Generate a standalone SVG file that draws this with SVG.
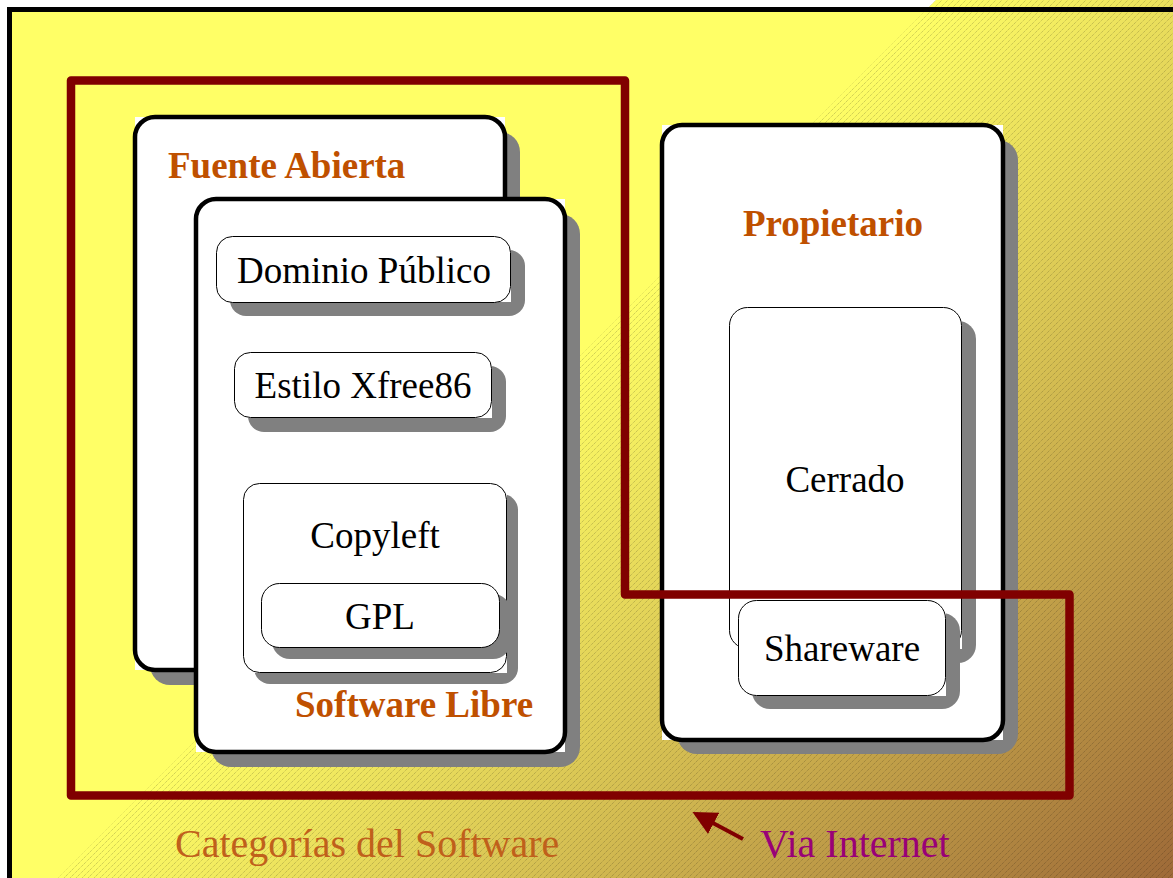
<svg xmlns="http://www.w3.org/2000/svg" width="1173" height="878" viewBox="0 0 1173 878">
  <defs>
    <linearGradient id="warm" gradientUnits="userSpaceOnUse" x1="468" y1="468" x2="1025" y2="1025">
      <stop offset="0" stop-color="#FFFF66"/>
      <stop offset="1" stop-color="#9E6A38"/>
    </linearGradient>
    <pattern id="hatch" patternUnits="userSpaceOnUse" width="6" height="6">
      <path d="M-1,1 L1,-1 M0,6 L6,0 M5,7 L7,5" stroke="#000" stroke-opacity="0.3" stroke-width="0.8" stroke-dasharray="1,1"/>
    </pattern>
    <marker id="head" markerWidth="6" markerHeight="6" refX="5" refY="3" orient="auto" markerUnits="strokeWidth">
      <path d="M0,0 L6,3 L0,6 Z" fill="#800000"/>
    </marker>
  </defs>
  <style>
    .shadow { fill: #808080; }
    .sq { fill: #FFFFFF; }
    .big { fill: #FFFFFF; stroke: #000; stroke-width: 4.5; }
    .small { fill: #FFFFFF; stroke: #000; stroke-width: 1; }
    .title { font-family: "Liberation Serif", "Times New Roman", serif; font-weight: bold; font-size: 37px; fill: #BF5000; }
    .label { font-family: "Liberation Serif", "Times New Roman", serif; font-size: 37px; fill: #000; text-anchor: middle; }
    .caption { font-family: "Liberation Serif", "Times New Roman", serif; font-size: 40px; }
  </style>

  <!-- page background -->
  <rect x="0" y="0" width="1173" height="878" fill="#FFFFFF"/>
  <rect x="9.5" y="9.5" width="1200" height="900" fill="#FFFF66"/>
  <polygon points="936,0 1173,0 1173,878 58,878" fill="url(#warm)"/>
  <polygon points="936,0 1173,0 1173,878 58,878" fill="url(#hatch)"/>
  <rect x="9.5" y="9.5" width="1200" height="900" fill="none" stroke="#000" stroke-width="5"/>

  <!-- Fuente Abierta -->
  <g id="fuente-abierta">
    <rect class="shadow" x="150" y="132" width="370" height="553" rx="20"/>
    <rect class="sq" x="135" y="117" width="370" height="553"/>
    <rect class="big" x="135" y="117" width="370" height="553" rx="20"/>
    <text class="title" x="168" y="178">Fuente Abierta</text>
  </g>

  <!-- Software Libre -->
  <g id="software-libre">
    <rect class="shadow" x="211" y="214" width="369" height="553" rx="20"/>
    <rect class="sq" x="196" y="199" width="369" height="553"/>
    <rect class="big" x="196" y="199" width="369" height="553" rx="20"/>
    <text class="title" x="295" y="717">Software Libre</text>
  </g>

  <g id="dominio-publico">
    <rect class="shadow" x="230" y="250" width="295" height="66" rx="16"/>
    <rect class="sq" x="216" y="236" width="295" height="66"/>
    <rect class="small" x="216.5" y="236.5" width="294" height="66" rx="16"/>
    <text class="label" x="364" y="283">Dominio Público</text>
  </g>

  <g id="estilo-xfree86">
    <rect class="shadow" x="248" y="366" width="258" height="66" rx="16"/>
    <rect class="sq" x="234" y="352" width="258" height="66"/>
    <rect class="small" x="234.5" y="352.5" width="257" height="65" rx="16"/>
    <text class="label" x="363" y="398">Estilo Xfree86</text>
  </g>

  <g id="copyleft">
    <rect class="shadow" x="254" y="494" width="264" height="190" rx="16"/>
    <rect class="sq" x="243" y="483" width="264" height="190"/>
    <rect class="small" x="243.5" y="483.5" width="263" height="189" rx="16"/>
    <text class="label" x="375" y="548">Copyleft</text>
  </g>

  <g id="gpl">
    <rect class="shadow" x="272" y="594" width="239" height="65" rx="18"/>
    <rect class="small" x="261.5" y="583.5" width="238" height="64" rx="18"/>
    <text class="label" x="380" y="629">GPL</text>
  </g>

  <!-- Propietario -->
  <g id="propietario">
    <rect class="shadow" x="677" y="140" width="341" height="614" rx="20"/>
    <rect class="sq" x="662" y="125" width="341" height="615"/>
    <rect class="big" x="662" y="125" width="341" height="615" rx="20"/>
    <text class="title" x="833" y="236" text-anchor="middle">Propietario</text>
  </g>

  <g id="cerrado">
    <rect class="shadow" x="743" y="321" width="233" height="342" rx="18"/>
    <rect class="sq" x="729" y="307" width="233" height="342"/>
    <rect class="small" x="729.5" y="307.5" width="232" height="341" rx="18"/>
    <text class="label" x="845" y="492">Cerrado</text>
  </g>

  <g id="shareware">
    <rect class="shadow" x="752" y="613" width="208" height="96" rx="18"/>
    <rect class="sq" x="738" y="600" width="208" height="96"/>
    <rect class="small" x="738.5" y="600.5" width="207" height="95" rx="18"/>
    <text class="label" x="842" y="661">Shareware</text>
  </g>

  <!-- region outline and pointer -->
  <g id="connectors">
    <path d="M71,80.5 L625,80.5 L625,594.5 L1069.5,594.5 L1069.5,795.5 L71,795.5 Z" fill="none" stroke="#800000" stroke-width="8.5" stroke-linejoin="round"/>
    <line x1="743" y1="839" x2="696" y2="814" stroke="#800000" stroke-width="4" marker-end="url(#head)"/>
  </g>

  <g id="captions">
    <text class="caption" x="175" y="857" fill="#C0601B">Categorías del Software</text>
    <text class="caption" x="760" y="857" fill="#990077">Via Internet</text>
  </g>
</svg>
